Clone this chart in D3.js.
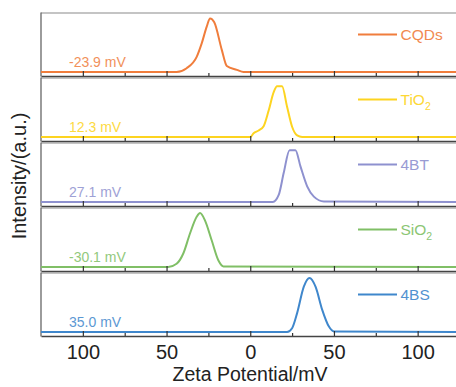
<!DOCTYPE html>
<html>
<head>
<meta charset="utf-8">
<script src="https://cdn.jsdelivr.net/npm/d3@7"></script>
<style>
  body { margin: 0; background: #fff; }
  svg text { font-family: "Liberation Sans", Arial, sans-serif; }
</style>
</head>
<body>
<div id="chart"></div>
<script>
// Zeta potential curves, [mV, normalised intensity]
var cqds = [[-125,0],[-44,0],[-38,0.07],[-32,0.28],[-29,0.53],[-26,0.84],[-24,0.99],[-21.5,0.92],[-17,0.41],[-14,0.11],[-8,0.04],[-4,0],[125,0]];
var tio2 = [[-125,0],[0,0],[2,0.07],[5,0.12],[8,0.2],[11,0.49],[14,0.83],[16,0.94],[19,0.94],[22,0.56],[25,0.19],[28,0.03],[31,0],[125,0]];
var bt4 = [[-125,0],[13.5,0],[17,0.13],[20,0.54],[23.5,0.96],[27,0.96],[30,0.66],[34,0.29],[38,0.1],[44,0.01],[125,0]];
var sio2 = [[-125,0],[-49,0],[-44,0.06],[-40,0.25],[-36,0.62],[-32,0.93],[-30,1],[-27,0.86],[-23,0.49],[-19,0.12],[-16,0.01],[125,0]];
var bs4 = [[-125,0],[22,0],[25,0.07],[28,0.35],[32,0.84],[35.4,1],[39,0.84],[43,0.41],[47,0.1],[50,0.01],[125,0]];

var names = ["CQDs", "TiO", "4BT", "SiO", "4BS"];
var subs = ["", "2", "", "2", ""];
var potentials = ["-23.9 mV", "12.3 mV", "27.1 mV", "-30.1 mV", "35.0 mV"];
var series = [cqds, tio2, bt4, sio2, bs4];
var colors = ["#F07D3C", "#FDD420", "#8E91CF", "#80BF66", "#3F87CC"];

var majorTicks = [-100, -50, 0, 50, 100];
var minorTicks = [-75, -25, 25, 75];
var tickLabels = ["100", "50", "0", "50", "100"];

var width = 456, height = 387;
var left = 41, top0 = 12.5, panelH = 65;

var svg = d3.select("#chart").append("svg")
    .attr("width", width)
    .attr("height", height);

var x = d3.scaleLinear().domain([-125, 125]).range([left, left + 418.5]);

series.forEach(function(data, i) {
    var top = top0 + panelH * i;
    var bottom = top + panelH;
    var y = d3.scaleLinear().domain([0, 1]).range([bottom - 5.5, top + 5.5]);
    var g = svg.append("g");

    // top border
    g.append("line")
        .attr("x1", left).attr("x2", width)
        .attr("y1", top + 0.5).attr("y2", top + 0.5)
        .attr("stroke", "#8a8a8a").attr("stroke-width", 1.2);

    // left border
    g.append("line")
        .attr("x1", left).attr("x2", left)
        .attr("y1", top).attr("y2", bottom - 1)
        .attr("stroke", "#666").attr("stroke-width", 1.3);

    // curve
    var line = d3.line()
        .x(function(d) { return x(d[0]); })
        .y(function(d) { return y(d[1]); })
        .curve(d3.curveMonotoneX);

    g.append("path")
        .datum(data)
        .attr("fill", "none")
        .attr("stroke", colors[i])
        .attr("stroke-width", 2)
        .attr("stroke-linejoin", "round")
        .attr("d", line);

    // minor ticks
    var minor = d3.axisBottom(x).tickValues(minorTicks).tickSize(-3).tickFormat("");
    g.append("g")
        .attr("transform", "translate(0," + (bottom - 1.5) + ")")
        .call(minor)
        .call(function(a) { a.select(".domain").remove(); })
        .selectAll("line").attr("stroke", "#333").attr("stroke-width", 1.2);

    // major ticks + axis line
    var axis = d3.axisBottom(x)
        .tickValues(majorTicks)
        .tickSizeInner(-5)
        .tickSizeOuter(0)
        .tickPadding(9)
        .tickFormat(function(d, k) { return i === 4 ? tickLabels[k] : ""; });

    var ax = g.append("g")
        .attr("transform", "translate(0," + (bottom - 1.5) + ")")
        .call(axis);
    ax.select(".domain").attr("stroke", "#444").attr("stroke-width", 1.5);
    ax.selectAll(".tick line").attr("stroke", "#333").attr("stroke-width", 1.2);
    ax.selectAll(".tick text")
        .attr("font-size", 20)
        .attr("fill", "#222")
        .style("font-family", "'Liberation Sans', Arial, sans-serif");

    // value label
    g.append("text")
        .attr("x", 69)
        .attr("y", bottom - 11)
        .attr("font-size", 14)
        .attr("fill", colors[i])
        .attr("opacity", 0.85)
        .text(potentials[i]);

    // legend
    var ly = top + 22;
    g.append("line")
        .attr("x1", 358).attr("x2", 397)
        .attr("y1", ly).attr("y2", ly)
        .attr("stroke", colors[i]).attr("stroke-width", 2);
    var t = g.append("text")
        .attr("x", 400.5)
        .attr("y", ly + 5.5)
        .attr("font-size", 15.5)
        .attr("fill", colors[i])
        .attr("opacity", 0.9)
        .text(names[i]);
    if (subs[i]) {
        t.append("tspan")
            .attr("dy", 5)
            .attr("font-size", 10.5)
            .text(subs[i]);
    }
});

// axis titles
svg.append("text")
    .attr("x", 250)
    .attr("y", 381)
    .attr("text-anchor", "middle")
    .attr("font-size", 19.5)
    .attr("fill", "#222")
    .text("Zeta Potential/mV");

svg.append("text")
    .attr("transform", "translate(26,176) rotate(-90)")
    .attr("text-anchor", "middle")
    .attr("font-size", 20)
    .attr("fill", "#222")
    .text("Intensity/(a.u.)");
</script>
</body>
</html>
